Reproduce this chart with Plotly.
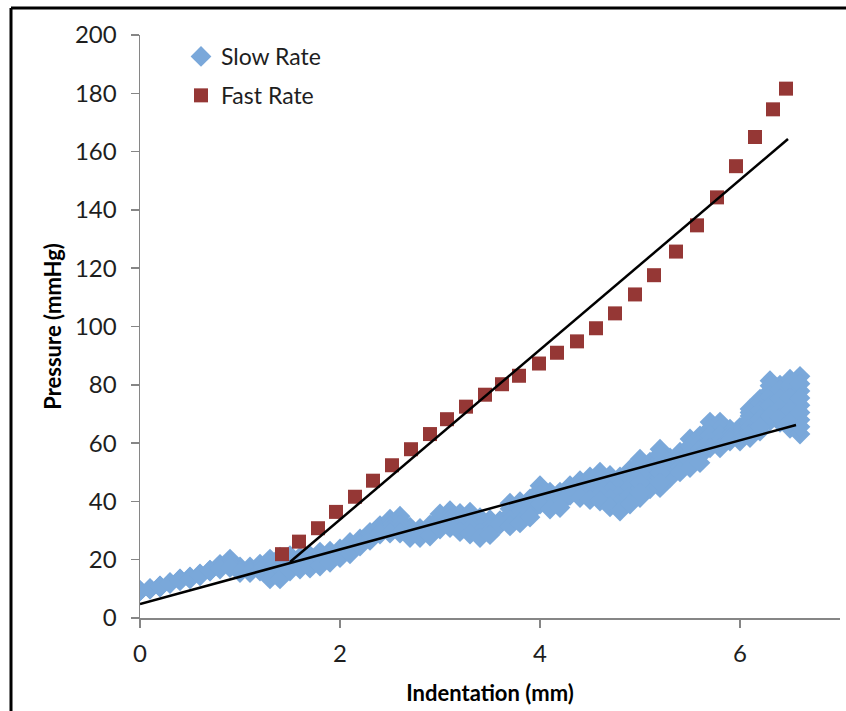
import plotly.graph_objects as go

# ---------------- data ----------------
slow_x = [0.0, 0.1, 0.2, 0.3, 0.4, 0.5, 0.6, 0.7, 0.8, 0.9,
          1.0, 1.1, 1.2, 1.3, 1.4, 1.5, 1.6, 1.7, 1.8, 1.9,
          2.0, 2.1, 2.2, 2.3, 2.4, 2.5, 2.6, 2.7, 2.8, 2.9,
          3.0, 3.1, 3.2, 3.3, 3.4, 3.5, 3.6, 3.7, 3.8, 3.9,
          4.0, 4.1, 4.2, 4.3, 4.4, 4.5, 4.6, 4.7, 4.8, 4.9,
          5.0, 5.1, 5.2, 5.3, 5.4, 5.5, 5.6, 5.7, 5.8, 5.9,
          6.0, 6.1, 6.2, 6.3, 6.4, 6.5, 6.6]
slow_hi = [9.4, 10.1, 11.0, 12.1, 13.4, 14.1, 15.1, 16.4, 18.4, 20.2,
           17.5, 17.5, 18.5, 20.2, 20.9, 21.4, 20.9, 21.4, 22.6, 22.9,
           23.7, 25.9, 27.1, 29.4, 31.7, 33.9, 34.9, 31.2, 30.7, 31.9,
           35.7, 36.8, 35.9, 36.3, 34.4, 33.7, 33.4, 39.4, 39.9, 40.9,
           45.4, 43.2, 43.2, 45.4, 47.1, 48.4, 50.0, 48.9, 48.4, 50.9,
           54.5, 53.5, 57.9, 54.9, 56.9, 61.4, 62.5, 67.2, 67.2, 64.8,
           65.4, 71.7, 75.1, 81.4, 79.9, 81.9, 82.9]
slow_q1 = [9.4, 10.0, 10.9, 12.0, 13.3, 13.9, 14.9, 16.3, 18.0, 19.5,
           17.0, 17.0, 17.9, 18.5, 19.0, 20.1, 19.9, 20.3, 21.4, 22.0,
           23.0, 24.9, 26.5, 28.7, 31.0, 32.7, 33.5, 30.3, 29.9, 31.0,
           34.4, 35.4, 34.3, 34.4, 32.7, 32.4, 33.1, 37.5, 38.1, 39.3,
           43.8, 41.8, 41.9, 44.6, 45.7, 46.5, 47.5, 46.2, 45.5, 48.0,
           51.2, 51.2, 54.6, 53.2, 55.2, 59.0, 60.2, 65.0, 65.0, 63.8,
           64.2, 69.3, 72.4, 77.9, 76.7, 77.7, 77.9]
slow_mid = [9.4, 10.0, 10.8, 12.0, 13.1, 13.7, 14.8, 16.2, 17.6, 18.8,
            16.6, 16.6, 17.3, 16.8, 17.2, 18.8, 18.9, 19.3, 20.2, 21.0,
            22.2, 24.0, 25.9, 28.0, 30.3, 31.5, 32.0, 29.4, 29.2, 30.0,
            33.1, 33.9, 32.8, 32.6, 31.0, 31.2, 32.8, 35.5, 36.3, 37.8,
            42.3, 40.3, 40.6, 43.8, 44.2, 44.5, 45.1, 43.5, 42.6, 45.0,
            47.9, 48.9, 51.3, 51.5, 53.5, 56.5, 57.9, 62.8, 62.8, 62.8,
            63.1, 66.8, 69.6, 74.5, 73.5, 73.5, 73.0]
slow_q3 = [9.3, 10.0, 10.7, 12.0, 12.9, 13.6, 14.7, 16.2, 17.2, 18.0,
           16.1, 16.1, 16.7, 15.1, 15.3, 17.4, 17.8, 18.2, 19.0, 20.1,
           21.5, 23.0, 25.3, 27.3, 29.5, 30.3, 30.6, 28.5, 28.4, 29.1,
           31.8, 32.5, 31.2, 30.7, 29.3, 29.9, 32.4, 33.6, 34.4, 36.2,
           40.7, 38.9, 39.2, 42.9, 42.8, 42.6, 42.6, 40.8, 39.6, 42.1,
           44.6, 46.6, 48.0, 49.8, 51.8, 54.1, 55.6, 60.6, 60.6, 61.7,
           61.9, 64.4, 66.9, 71.0, 70.3, 69.3, 68.0]
slow_lo = [9.3, 9.9, 10.6, 11.9, 12.8, 13.4, 14.5, 16.1, 16.8, 17.3,
           15.6, 15.6, 16.1, 13.4, 13.4, 16.1, 16.8, 17.1, 17.8, 19.1,
           20.7, 22.0, 24.7, 26.6, 28.8, 29.1, 29.1, 27.6, 27.6, 28.1,
           30.5, 31.0, 29.6, 28.8, 27.6, 28.6, 32.1, 31.6, 32.6, 34.6,
           39.1, 37.4, 37.9, 42.1, 41.3, 40.6, 40.1, 38.1, 36.7, 39.1,
           41.3, 44.3, 44.7, 48.1, 50.1, 51.6, 53.3, 58.4, 58.4, 60.7,
           60.7, 61.9, 64.1, 67.6, 67.1, 65.1, 63.1]
# extra readings where the slow-rate band is widest
slow_extra_x = [5.0, 5.0, 5.0, 5.0, 5.2, 5.2, 5.2, 5.2,
                6.1, 6.1, 6.1, 6.1, 6.2, 6.2, 6.2, 6.2,
                6.3, 6.3, 6.3, 6.3, 6.4, 6.4, 6.4, 6.4,
                6.5, 6.5, 6.5, 6.5, 6.6, 6.6, 6.6, 6.6]
slow_extra_y = [52.9, 49.6, 46.3, 43.0, 56.3, 53.0, 49.7, 46.4,
                70.5, 68.1, 65.6, 63.2, 73.8, 71.0, 68.3, 65.5,
                79.7, 76.2, 72.8, 69.3, 78.3, 75.1, 71.9, 68.7,
                79.8, 75.6, 71.4, 67.2, 80.4, 75.5, 70.5, 65.6]

fast_x = [1.42, 1.59, 1.78, 1.96, 2.15, 2.33, 2.52, 2.71, 2.90, 3.07,
          3.26, 3.45, 3.62, 3.79, 3.99, 4.17, 4.37, 4.56, 4.75, 4.95,
          5.14, 5.36, 5.57, 5.77, 5.96, 6.15, 6.33, 6.46]
fast_y = [21.9, 26.2, 30.8, 36.4, 41.6, 47.1, 52.4, 57.9, 63.1, 68.2,
          72.5, 76.6, 80.2, 83.1, 87.3, 91.0, 94.9, 99.4, 104.5, 111.0,
          117.6, 125.7, 134.7, 144.3, 155.0, 165.0, 174.5, 181.6]

slow_fit_x = [0.0, 6.56]
slow_fit_y = [4.8, 66.2]
fast_fit_x = [1.50, 6.48]
fast_fit_y = [19.2, 164.3]

x_ticks = [0, 2, 4, 6]
y_ticks = [0, 20, 40, 60, 80, 100, 120, 140, 160, 180, 200]

# ---------------- figure ----------------
slow_all_x = slow_x * 5 + slow_extra_x
slow_all_y = slow_hi + slow_q1 + slow_mid + slow_q3 + slow_lo + slow_extra_y

FONT = "Lato"
TXT = "#1e1e1e"
AX = "#868686"

fig = go.Figure()
fig.add_trace(go.Scatter(
    x=slow_all_x, y=slow_all_y, mode="markers", name="Slow Rate", legendgroup="slow",
    marker=dict(symbol="diamond", size=16, color="#7AA8DA", line=dict(width=0)),
))
fig.add_trace(go.Scatter(
    x=fast_x, y=fast_y, mode="markers", name="Fast Rate", legendgroup="fast",
    marker=dict(symbol="square", size=14, color="#953735", line=dict(width=0)),
))
fig.add_trace(go.Scatter(
    x=slow_fit_x, y=slow_fit_y, mode="lines", showlegend=False,
    line=dict(color="black", width=2.5), hoverinfo="skip",
))
fig.add_trace(go.Scatter(
    x=fast_fit_x, y=fast_fit_y, mode="lines", showlegend=False,
    line=dict(color="black", width=2.5), hoverinfo="skip",
))

L, R, T, B = 140, 6, 35, 93
W, H = 846, 711
pw, ph = W - L - R, H - T - B

def px_to_paper_x(p):
    return (p - L) / pw

def px_to_paper_y(p):
    return (H - B - p) / ph

fig.update_layout(
    width=W, height=H,
    margin=dict(l=L, r=R, t=T, b=B, pad=0),
    paper_bgcolor="white", plot_bgcolor="white",
    font=dict(family=FONT, size=24, color=TXT),
    showlegend=True,
    legend=dict(
        x=px_to_paper_x(181), y=px_to_paper_y(35), xanchor="left", yanchor="top",
        bgcolor="rgba(0,0,0,0)", font=dict(family=FONT, size=23, color=TXT),
        tracegroupgap=6, itemsizing="trace",
    ),
    xaxis=dict(
        range=[0, 7], tickvals=x_ticks, ticktext=[str(v) for v in x_ticks],
        showgrid=False, zeroline=False, showline=True, linecolor=AX, linewidth=1.5,
        ticks="outside", ticklen=8, tickcolor=AX, tickwidth=1.5,
        tickfont=dict(family=FONT, size=24, color=TXT), ticklabelstandoff=6,
        title=dict(text="<b>Indentation (mm)</b>", font=dict(family=FONT, size=22, color="black"),
                   standoff=19),
    ),
    yaxis=dict(
        range=[0, 200], tickvals=y_ticks, ticktext=[str(v) for v in y_ticks],
        showgrid=False, zeroline=False, showline=True, linecolor=AX, linewidth=1.5,
        ticks="outside", ticklen=8, tickcolor=AX, tickwidth=1.5,
        tickfont=dict(family=FONT, size=24, color=TXT), ticklabelstandoff=9,
        title=dict(text="<b>Pressure (mmHg)</b>", font=dict(family=FONT, size=22, color="black"),
                   standoff=7),
    ),
    shapes=[
        dict(type="line", xref="paper", yref="paper",
             x0=px_to_paper_x(11), x1=px_to_paper_x(W),
             y0=px_to_paper_y(8), y1=px_to_paper_y(8),
             line=dict(color="black", width=3), layer="above"),
        dict(type="line", xref="paper", yref="paper",
             x0=px_to_paper_x(11), x1=px_to_paper_x(11),
             y0=px_to_paper_y(8), y1=px_to_paper_y(H),
             line=dict(color="black", width=3), layer="above"),
    ],
)

fig.write_html(
    "out.html",
    config={"displayModeBar": False, "staticPlot": True},
    post_script=(
        "var s=document.createElement('style');"
        "s.textContent='html,body{margin:0;padding:0;overflow:hidden;background:#fff;}';"
        "document.head.appendChild(s);"
    ),
)
